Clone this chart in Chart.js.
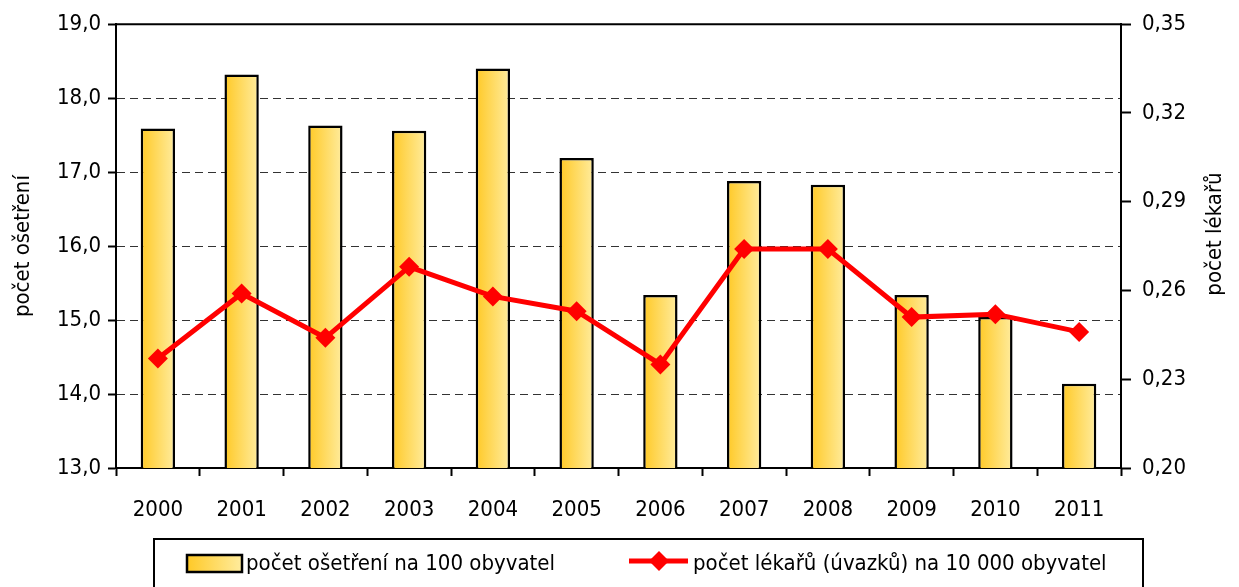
<!DOCTYPE html>
<html>
<head>
<meta charset="utf-8">
<script src="https://cdn.jsdelivr.net/npm/chart.js@4.4.1/dist/chart.umd.min.js"></script>
<style>
  html, body { margin: 0; padding: 0; background: #fff; }
  #wrap { width: 1239px; height: 587px; }
</style>
</head>
<body>
<div id="wrap"><canvas id="chart" width="1239" height="587"></canvas></div>
<script>
const years = ['2000', '2001', '2002', '2003', '2004', '2005', '2006', '2007', '2008', '2009', '2010', '2011'];
const treatments = [17.59, 18.32, 17.63, 17.56, 18.40, 17.19, 15.34, 16.88, 16.83, 15.34, 15.04, 14.14];
const doctors = [0.237, 0.259, 0.244, 0.268, 0.258, 0.253, 0.235, 0.274, 0.274, 0.251, 0.252, 0.246];
const leftTicks = [13, 14, 15, 16, 17, 18, 19];
const rightTicks = [0.20, 0.23, 0.26, 0.29, 0.32, 0.35];
const barLabel = 'počet ošetření na 100 obyvatel';
const lineLabel = 'počet lékařů (úvazků) na 10 000 obyvatel';
const leftTitle = 'počet ošetření';
const rightTitle = 'počet lékařů';

const FONT = '"Liberation Sans Narrow", "Arial Narrow", "DejaVu Sans Condensed", sans-serif';
const BAR_PCT = 0.41;

function barGradient(ctx, x0, x1) {
    const g = ctx.createLinearGradient(x0, 0, x1, 0);
    g.addColorStop(0, '#FFC926');
    g.addColorStop(1, '#FFEC9E');
    return g;
}

// frame on top, right title (bottom-to-top), custom legend
const framePlugin = {
    id: 'frame',
    afterDatasetsDraw(chart) {
        const { ctx, chartArea } = chart;
        ctx.save();
        ctx.strokeStyle = '#000';
        ctx.lineWidth = 2;
        ctx.beginPath();
        ctx.moveTo(chartArea.left, chartArea.top);
        ctx.lineTo(chartArea.right, chartArea.top);
        ctx.stroke();
        ctx.restore();
    },
    afterDraw(chart) {
        const ctx = chart.ctx;
        ctx.save();
        ctx.fillStyle = '#000';
        ctx.font = '22px ' + FONT;
        ctx.textAlign = 'center';
        ctx.textBaseline = 'middle';
        ctx.translate(1215, 234);
        ctx.rotate(-Math.PI / 2);
        ctx.fillText(rightTitle, 0, 0);
        ctx.restore();

        ctx.save();
        // box
        ctx.strokeStyle = '#000';
        ctx.lineWidth = 2;
        ctx.strokeRect(154, 539, 989, 80);

        // bar item
        ctx.fillStyle = barGradient(ctx, 187, 242);
        ctx.fillRect(187, 555, 55, 17);
        ctx.lineWidth = 2.5;
        ctx.strokeRect(187, 555, 55, 17);

        // line item
        ctx.strokeStyle = '#FF0000';
        ctx.lineWidth = 5;
        ctx.beginPath();
        ctx.moveTo(629, 561);
        ctx.lineTo(688, 561);
        ctx.stroke();
        ctx.fillStyle = '#FF0000';
        ctx.beginPath();
        ctx.moveTo(659, 551);
        ctx.lineTo(669, 561);
        ctx.lineTo(659, 571);
        ctx.lineTo(649, 561);
        ctx.closePath();
        ctx.fill();

        ctx.fillStyle = '#000';
        ctx.font = '22px ' + FONT;
        ctx.textBaseline = 'middle';
        ctx.textAlign = 'left';
        ctx.fillText(barLabel, 246, 564);
        ctx.fillText(lineLabel, 693, 564);
        ctx.restore();
    }
};

const ctx = document.getElementById('chart').getContext('2d');
new Chart(ctx, {
    type: 'bar',
    data: {
        labels: years,
        datasets: [{
            type: 'line',
            label: lineLabel,
            data: doctors,
            yAxisID: 'y2',
            order: 0,
            borderColor: '#FF0000',
            backgroundColor: '#FF0000',
            borderWidth: 5,
            pointStyle: 'rectRot',
            pointRadius: 10,
            pointBorderWidth: 0,
            tension: 0
        }, {
            type: 'bar',
            label: barLabel,
            data: treatments,
            yAxisID: 'y',
            order: 1,
            borderColor: '#000',
            borderWidth: 2.5,
            borderSkipped: false,
            categoryPercentage: 1,
            barPercentage: BAR_PCT,
            backgroundColor: function (c) {
                const xs = c.chart.scales.x;
                if (!xs || c.dataIndex === undefined) return '#FFD84D';
                const cx = xs.getPixelForValue(c.dataIndex);
                const w = xs.width / years.length * BAR_PCT;
                if (!isFinite(cx) || !isFinite(w)) return '#FFD84D';
                return barGradient(c.chart.ctx, cx - w / 2, cx + w / 2);
            }
        }]
    },
    options: {
        responsive: false,
        animation: false,
        layout: { padding: { top: 22, bottom: 59, left: 0, right: 0 } },
        plugins: {
            legend: { display: false },
            tooltip: { enabled: false }
        },
        scales: {
            x: {
                afterFit: function (s) { s.height = 60; },
                grid: {
                    offset: true,
                    drawOnChartArea: false,
                    tickLength: 8,
                    tickWidth: 2,
                    tickColor: '#000'
                },
                border: { color: '#000', width: 2 },
                ticks: {
                    color: '#000',
                    font: { family: FONT, size: 22 },
                    padding: 21
                }
            },
            y: {
                position: 'left',
                min: 13,
                max: 19,
                afterFit: function (s) { s.width = 116; },
                afterBuildTicks: function (s) { s.ticks = leftTicks.map(v => ({ value: v })); },
                grid: {
                    color: '#333',
                    lineWidth: 1,
                    tickLength: 8,
                    tickWidth: 2,
                    tickColor: '#000',
                    tickBorderDash: []
                },
                border: { color: '#000', width: 2, dash: [8, 5] },
                ticks: {
                    color: '#000',
                    font: { family: FONT, size: 22 },
                    padding: 7,
                    callback: v => v.toFixed(1).replace('.', ',')
                },
                title: {
                    display: true,
                    text: leftTitle,
                    color: '#000',
                    font: { family: FONT, size: 22 },
                    padding: { top: 10, bottom: 0 }
                }
            },
            y2: {
                position: 'right',
                min: 0.2,
                max: 0.35,
                afterFit: function (s) { s.width = 118; },
                afterBuildTicks: function (s) { s.ticks = rightTicks.map(v => ({ value: v })); },
                grid: {
                    drawOnChartArea: false,
                    tickLength: 10,
                    tickWidth: 2,
                    tickColor: '#000'
                },
                border: { color: '#000', width: 2 },
                ticks: {
                    color: '#000',
                    font: { family: FONT, size: 22 },
                    padding: 11,
                    callback: v => v.toFixed(2).replace('.', ',')
                }
            }
        }
    },
    plugins: [framePlugin]
});
</script>
</body>
</html>
